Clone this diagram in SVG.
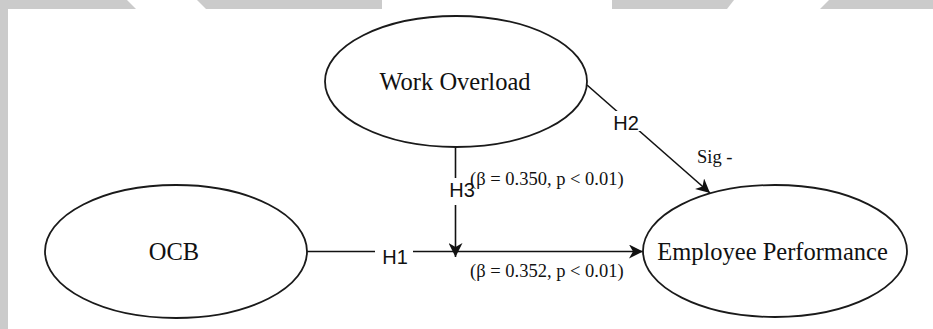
<svg xmlns="http://www.w3.org/2000/svg" width="933" height="329" viewBox="0 0 933 329">
  <style>
    .node ellipse { fill: #ffffff; stroke: #1a1a1a; stroke-width: 1.8; }
    .ntext { font-family: "Liberation Serif", "Times New Roman", serif; font-size: 24.5px; fill: #111111; text-anchor: middle; }
    .edge { stroke: #111111; stroke-width: 1.6; fill: none; }
    .hlabel { font-family: "Liberation Sans", Arial, sans-serif; font-size: 20px; fill: #111111; text-anchor: middle; }
    .stat { font-family: "Liberation Serif", "Times New Roman", serif; font-size: 18.5px; fill: #111111; }
    .band { fill: #cbcbcb; }
    .lblbg { fill: #ffffff; }
  </style>
  <defs>
    <marker id="arrow" markerUnits="userSpaceOnUse" markerWidth="15" markerHeight="14" refX="14" refY="7" orient="auto">
      <path d="M0,0 L14,7 L0,14 L4,7 Z" fill="#111111"/>
    </marker>
  </defs>

  <rect width="933" height="329" fill="#ffffff"/>

  <g id="background-bands">
    <rect class="band" x="0" y="0" width="8" height="329"/>
    <polygon class="band" points="0,0 127,0 136,9 0,9"/>
    <polygon class="band" points="197,0 382,0 382,9 206,9"/>
    <polygon class="band" points="612,0 734,0 727,9 612,9"/>
    <polygon class="band" points="829,0 933,0 933,9 820,9"/>
  </g>

  <g id="connectors">
    <line id="edge-h1" class="edge" x1="307" y1="251.5" x2="643" y2="251.5" marker-end="url(#arrow)"/>
    <line id="edge-h3" class="edge" x1="455.5" y1="147" x2="455.5" y2="257" marker-end="url(#arrow)"/>
    <line id="edge-h2" class="edge" x1="587" y1="85" x2="710" y2="193" marker-end="url(#arrow)"/>
    <g id="edge-labels">
      <rect class="lblbg" x="375" y="242" width="38" height="24"/>
      <text class="hlabel" x="395" y="264">H1</text>
      <rect class="lblbg" x="448" y="178" width="27" height="27"/>
      <text class="hlabel" x="462" y="197">H3</text>
      <rect class="lblbg" x="611" y="111" width="30" height="20"/>
      <text class="hlabel" x="626" y="130">H2</text>
      <text class="stat" x="470" y="185">(β = 0.350, p &lt; 0.01)</text>
      <text class="stat" x="470" y="277">(β = 0.352, p &lt; 0.01)</text>
      <text class="stat" x="697" y="163">Sig -</text>
    </g>
  </g>

  <g id="node-work-overload" class="node">
    <ellipse cx="456" cy="81.5" rx="131" ry="65.5"/>
    <text class="ntext" x="455" y="90">Work Overload</text>
  </g>

  <g id="node-ocb" class="node">
    <ellipse cx="176" cy="251.5" rx="131" ry="66.5"/>
    <text class="ntext" x="174" y="260">OCB</text>
  </g>

  <g id="node-employee-performance" class="node">
    <ellipse cx="775" cy="251" rx="132" ry="66"/>
    <text class="ntext" x="772.5" y="260">Employee Performance</text>
  </g>
</svg>
